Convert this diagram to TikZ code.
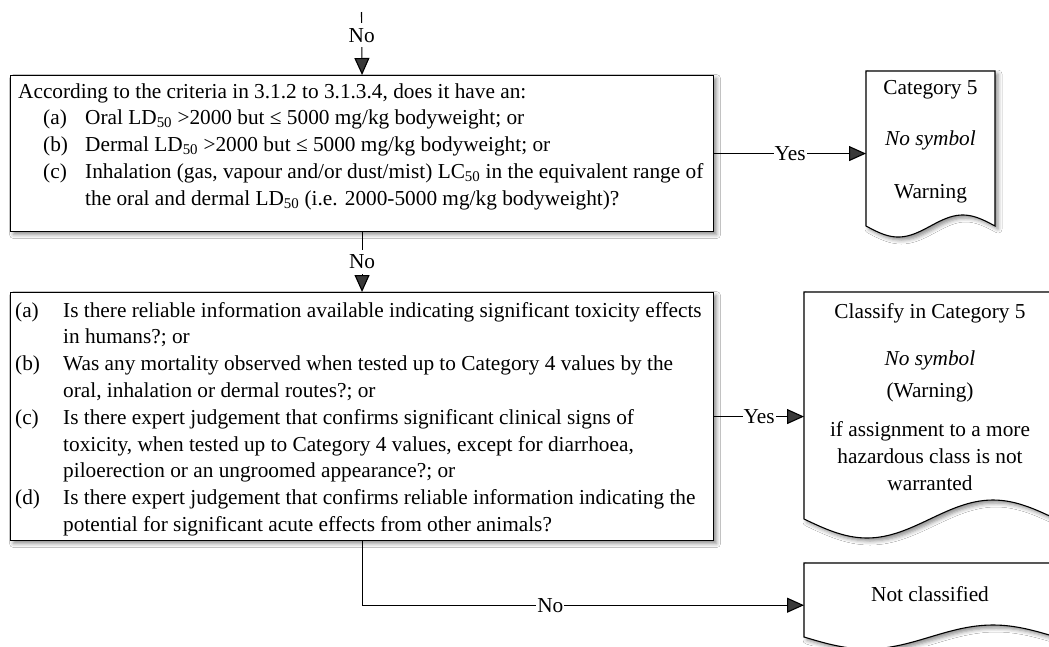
\documentclass[tikz,border=0pt]{standalone}
\usepackage{fontspec}
\setmainfont{Liberation Serif}
\usetikzlibrary{arrows.meta,shadows.blur}
\setlength{\parindent}{0pt}

\newcommand{\txtfont}{\fontsize{21.3pt}{26.8pt}\selectfont}
% hanging list entry: body indent, label box width, label
\newcommand{\qitem}[3]{\par\leftskip=#1\relax\noindent\llap{\makebox[#2][l]{#3}}\ignorespaces}
% document symbol: left, top, right, wave centre line, wave amplitude
\newcommand{\docshape}[5]{%
  \draw[docline] (#1,#4) -- (#1,#2) -- (#3,#2) -- (#3,#4)
    -- plot[domain=0:1, samples=61, smooth] ({#3-\x*(#3-#1)}, {#4+#5*sin(360*(1-\x))}) -- cycle;}

\tikzset{
  softshadow/.style={blur shadow={shadow xshift=3pt, shadow yshift=-3pt,
      shadow blur radius=4pt, shadow opacity=45}},
  qbox/.style={draw=black, line width=1.1pt, fill=white, rectangle,
      inner sep=0pt, softshadow},
  docline/.style={draw=black, line width=1.1pt, fill=white, softshadow},
  frame/.style={draw=none, rectangle, inner sep=0pt},
  flow/.style={line width=1.1pt, -{Triangle[length=17pt,width=15pt]}},
  lbl/.style={fill=white, inner xsep=1pt, inner ysep=5pt, font=\txtfont},
  txt/.style={inner sep=0pt, font=\txtfont}
}

\begin{document}
\begin{tikzpicture}[x=1pt, y=-1pt]
\useasboundingbox (0,0) rectangle (1049,646);
\fill[white] (0,0) rectangle (1049,646);

% decision boxes
\node[qbox, minimum width=703pt, minimum height=156pt, anchor=north west] (q1) at (10,75) {};
\node[qbox, minimum width=703pt, minimum height=248pt, anchor=north west] (q2) at (10,292) {};

% result documents
\docshape{866}{71}{995}{226}{11}
\docshape{804}{292}{1056}{519}{19}
\docshape{804}{563}{1056}{637}{12}
\node[frame, minimum width=129pt, minimum height=155pt, anchor=north west] (d1) at (866,71) {};
\node[frame, minimum width=252pt, minimum height=227pt, anchor=north west] (d2) at (804,292) {};
\node[frame, minimum width=252pt, minimum height=84pt, anchor=north west] (d3) at (804,563) {};

% connectors
\coordinate (in) at (361.5,12);
\draw[flow] (in) -- node[lbl, pos=0.37] (l0) {No} (q1.north);
\draw[flow] (q1.south) -- node[lbl] (l1) {No} (q2.north);
\draw[flow] (q1.east) -- node[lbl] (l2) {Yes} (q1.east -| d1.west);
\draw[flow] (q2.east) -- node[lbl] (l3) {Yes} (q2.east -| d2.west);
\draw[flow] (q2.south) |- node[lbl, pos=0.713] (l4) {No} (d3.west);

% question texts
\node[txt, anchor=base west] (q1t) at (18,98) {\begin{minipage}[t]{700pt}\raggedright
According to the criteria in 3.1.2 to 3.1.3.4, does it have an:
\qitem{67pt}{42pt}{(a)}Oral LD\textsubscript{50} >2000 but ≤ 5000 mg/kg bodyweight; or
\qitem{67pt}{42pt}{(b)}Dermal LD\textsubscript{50} >2000 but ≤ 5000 mg/kg bodyweight; or
\qitem{67pt}{42pt}{(c)}Inhalation (gas, vapour and/or dust/mist) LC\textsubscript{50} in the equivalent range of\\
the oral and dermal LD\textsubscript{50} (i.e. 2000-5000 mg/kg bodyweight)?
\end{minipage}};

\node[txt, anchor=base west] (q2t) at (15,317) {\begin{minipage}[t]{705pt}\raggedright
\qitem{48pt}{48pt}{(a)}Is there reliable information available indicating significant toxicity effects\\
in humans?; or
\qitem{48pt}{48pt}{(b)}Was any mortality observed when tested up to Category 4 values by the\\
oral, inhalation or dermal routes?; or
\qitem{48pt}{48pt}{(c)}Is there expert judgement that confirms significant clinical signs of\\
toxicity, when tested up to Category 4 values, except for diarrhoea,\\
piloerection or an ungroomed appearance?; or
\qitem{48pt}{48pt}{(d)}Is there expert judgement that confirms reliable information indicating the\\
potential for significant acute effects from other animals?
\end{minipage}};

% result texts
\node[txt, anchor=base] (d1t) at (930.5,94) {\begin{minipage}[t]{125pt}\centering
Category 5\par\vspace{25pt}
\textit{No symbol}\par\vspace{26pt}
Warning\end{minipage}};

\node[txt, anchor=base] (d2t) at (930,318) {\begin{minipage}[t]{250pt}\centering
Classify in Category 5\par\vspace{21pt}
\textit{No symbol}\par\vspace{5pt}
(Warning)\par\vspace{12pt}
if assignment to a more\\
hazardous class is not\\
warranted\end{minipage}};

\node[txt, anchor=base] (d3t) at (930,601) {Not classified};
\end{tikzpicture}
\end{document}
